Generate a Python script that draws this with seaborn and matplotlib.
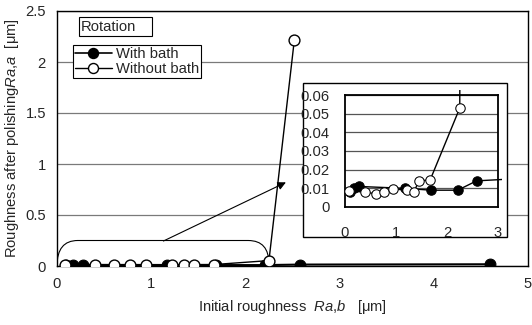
import matplotlib
matplotlib.use("Agg")
import matplotlib.pyplot as plt
import seaborn as sns
import pandas as pd
from matplotlib.patches import Rectangle, PathPatch
from matplotlib.path import Path
from matplotlib.lines import Line2D

# ---- data ----
with_x = [0.10, 0.17, 0.28, 1.17, 1.69, 2.21, 2.58, 4.60]
with_y = [0.008, 0.010, 0.011, 0.010, 0.009, 0.009, 0.014, 0.017]
without_x = [0.08, 0.40, 0.61, 0.77, 0.95, 1.22, 1.35, 1.45, 1.67, 2.25, 2.52]
without_y = [0.0085, 0.008, 0.007, 0.008, 0.0097, 0.009, 0.008, 0.014, 0.0145, 0.053, 2.22]
series_names = ["With bath", "Without bath"]
main_xticks = [0, 1, 2, 3, 4, 5]
main_yticks = [0, 0.5, 1, 1.5, 2, 2.5]
inset_xticks = [0, 1, 2, 3]
inset_yticks = [0, 0.01, 0.02, 0.03, 0.04, 0.05, 0.06]

sns.set_style("white")
plt.rcParams["font.family"] = ["Liberation Sans", "DejaVu Sans"]
plt.rcParams["mathtext.fontset"] = "custom"
plt.rcParams["mathtext.rm"] = "Liberation Sans"
plt.rcParams["mathtext.it"] = "Liberation Sans:italic"
FS = 10.6
plt.rcParams["font.size"] = FS

df_with = pd.DataFrame({"x": with_x, "y": with_y})
df_without = pd.DataFrame({"x": without_x, "y": without_y})

W, H = 532, 325
fig = plt.figure(figsize=(W / 100, H / 100), dpi=100)

def fx(px):
    return px / W

def fy(py):
    return 1 - py / H

# main axes
ax = fig.add_axes([fx(57), fy(266), fx(528) - fx(57), fy(11) - fy(266)])
ax.set_xlim(0, 5)
ax.set_ylim(0, 2.5)
ax.yaxis.grid(True, color="#7a7a7a", lw=0.9)
ax.xaxis.grid(False)
for s in ax.spines.values():
    s.set_color("black")
    s.set_linewidth(1.0)

sns.lineplot(data=df_with, x="x", y="y", ax=ax, color="black", lw=1.5,
             marker="o", markersize=7.8, markerfacecolor="black",
             markeredgecolor="black", legend=False, zorder=3)
sns.lineplot(data=df_without, x="x", y="y", ax=ax, color="black", lw=1.0,
             marker="o", markersize=7.8, markerfacecolor="white",
             markeredgecolor="black", markeredgewidth=1.0, legend=False, zorder=4)

ax.set_xticks(main_xticks)
ax.set_yticks(main_yticks)
ax.set_yticklabels(["0", "0.5", "1", "1.5", "2", "2.5"])
ax.tick_params(axis="x", direction="in", length=3, pad=8, labelsize=FS, color="black")
ax.tick_params(axis="y", direction="in", length=0, pad=8, labelsize=FS)
ax.set_xlabel(r"Initial roughness  $\it{Ra{,}b}$   [μm]", fontsize=FS, labelpad=5)
ax.set_ylabel(r"Roughness after polishing$\it{Ra{,}a}$  [μm]", fontsize=FS, labelpad=3)

# bracket around low values
verts = [(0.0, 0.0), (0.0, 0.25), (0.22, 0.25), (2.03, 0.25), (2.25, 0.25), (2.25, 0.02)]
codes = [Path.MOVETO, Path.CURVE3, Path.CURVE3, Path.LINETO, Path.CURVE3, Path.CURVE3]
ax.add_patch(PathPatch(Path(verts, codes), fill=False, lw=0.8, color="black", zorder=2))
ax.annotate("", xy=(2.43, 0.82), xytext=(1.13, 0.245),
            arrowprops=dict(arrowstyle="-|>", color="black", lw=0.8, mutation_scale=12,
                            shrinkA=0, shrinkB=0))

# legend
handles = [
    Line2D([], [], color="black", lw=1.2, marker="o", markersize=7.2,
           markerfacecolor="black", markeredgecolor="black"),
    Line2D([], [], color="black", lw=1.0, marker="o", markersize=7.2,
           markerfacecolor="white", markeredgecolor="black"),
]
leg = ax.legend(handles, series_names, loc="upper left",
                bbox_to_anchor=((73 - 57) / 471, (266 - 45) / 255), borderaxespad=0,
                frameon=True, fancybox=False, edgecolor="black", fontsize=FS,
                handlelength=2.5, handletextpad=0.3, borderpad=0.12, labelspacing=0.08,
                framealpha=1)
leg.get_frame().set_linewidth(0.8)

# Rotation box
ax.add_patch(Rectangle(((79 - 57) / 471, (266 - 36) / 255), (152 - 79) / 471, 19 / 255,
                       transform=ax.transAxes, fill=True, facecolor="white",
                       edgecolor="black", lw=0.8, zorder=5))
ax.text((81 - 57) / 471, (266 - 27) / 255, "Rotation", transform=ax.transAxes,
        ha="left", va="center", fontsize=FS, zorder=6)

# inset frame
frame = Rectangle((fx(303), fy(237)), fx(507) - fx(303), fy(83) - fy(237),
                  transform=fig.transFigure, facecolor="white", edgecolor="black",
                  lw=1.0, zorder=10)
fig.add_artist(frame)
clip = Rectangle((fx(303), fy(233)), fx(502) - fx(303), fy(90) - fy(233),
                 transform=fig.transFigure, fill=False, lw=0, visible=False)
fig.add_artist(clip)

axi = fig.add_axes([fx(345), fy(207), fx(498) - fx(345), fy(95) - fy(207)], zorder=11)
axi.set_xlim(0, 3)
axi.set_ylim(0, 0.06)
axi.patch.set_alpha(0)
axi.yaxis.grid(True, color="#555555", lw=0.9)
axi.xaxis.grid(False)
for s in axi.spines.values():
    s.set_color("black")
    s.set_linewidth(1.3)
sns.lineplot(data=df_with, x="x", y="y", ax=axi, color="black", lw=1.0,
             marker="o", markersize=6.8, markerfacecolor="black",
             markeredgecolor="black", legend=False, zorder=3)
sns.lineplot(data=df_without, x="x", y="y", ax=axi, color="black", lw=1.0,
             marker="o", markersize=6.8, markerfacecolor="white",
             markeredgecolor="black", legend=False, zorder=4)
for ln in axi.get_lines():
    ln.set_clip_path(clip)
axi.set_xticks(inset_xticks)
axi.set_yticks(inset_yticks)
axi.set_yticklabels(["0", "0.01", "0.02", "0.03", "0.04", "0.05", "0.06"])
axi.tick_params(axis="x", direction="in", length=3, pad=14, labelsize=FS)
axi.tick_params(axis="y", direction="in", length=3, pad=11, labelsize=FS)
axi.set_xlabel("")
axi.set_ylabel("")

fig.savefig("out.png", dpi=100)
